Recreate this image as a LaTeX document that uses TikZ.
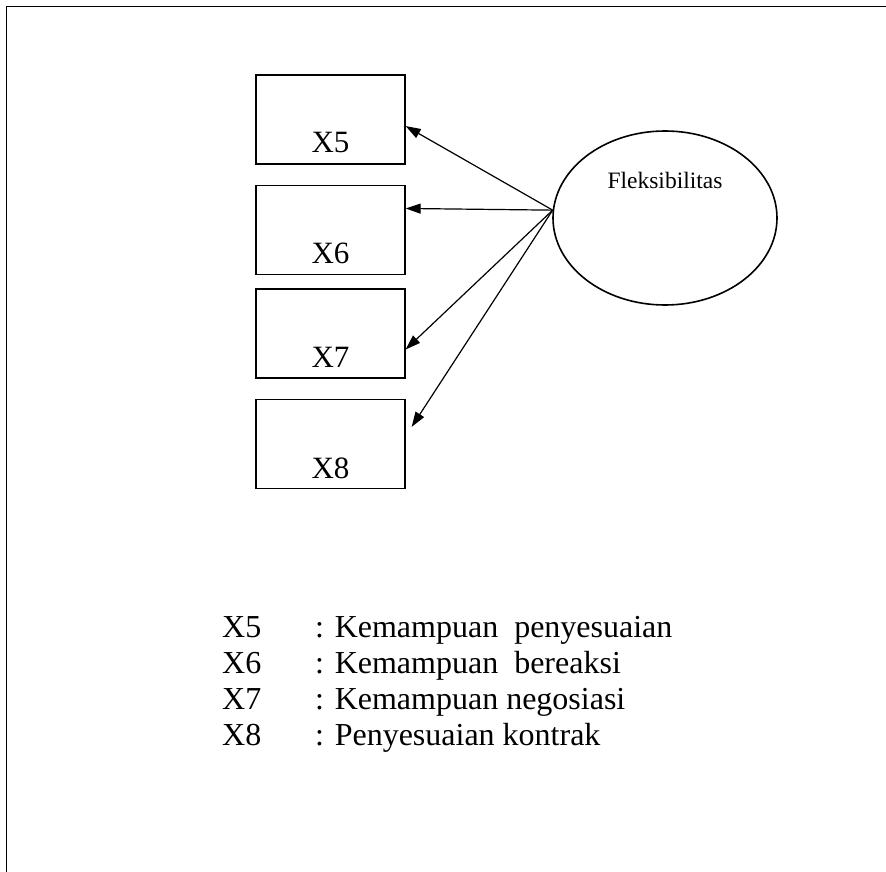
\documentclass[tikz,border=0pt]{standalone}
\usepackage{fontspec}
\setmainfont{Liberation Serif}
\usetikzlibrary{arrows.meta,shapes.geometric}

\tikzset{
  indicator/.style={draw, line width=1.3pt, rectangle, minimum width=149pt,
    minimum height=89pt, inner sep=0pt},
  boxlabel/.style={anchor=base, inner sep=0pt, font=\fontsize{31}{36}\selectfont},
  construct/.style={draw, line width=1.6pt, ellipse, minimum width=224pt,
    minimum height=174pt, inner sep=0pt},
  loading/.style={line width=1.2pt, -{Triangle[length=15pt,width=10pt]}},
  legendtext/.style={anchor=base west, inner sep=0pt, font=\fontsize{32}{37}\selectfont},
}

\begin{document}
\begin{tikzpicture}[x=1pt,y=-1pt]
\useasboundingbox (0,0) rectangle (886,872);

% frame edges (top and left)
\draw[line width=1.5pt] (886,6.5) -- (6.5,6.5) -- (6.5,872);

% observed indicators
\node[indicator] (b5) at (330.5,119.5) {};
\node[indicator] (b6) at (330.5,230) {};
\node[indicator] (b7) at (330.5,333.5) {};
\node[indicator] (b8) at (330.5,444) {};
\node[boxlabel] (l5) at ([yshift=12pt]b5.south) {X5};
\node[boxlabel] (l6) at ([yshift=12pt]b6.south) {X6};
\node[boxlabel] (l7) at ([yshift=11pt]b7.south) {X7};
\node[boxlabel] (l8) at ([yshift=11pt]b8.south) {X8};

% latent construct
\node[construct] (E) at (665,218) {};
\node[anchor=base, inner sep=0pt, font=\fontsize{23.5}{28}\selectfont] (Et)
  at ([yshift=30pt]E.center) {Fleksibilitas};

% loadings
\draw[loading] (E.176) -- (b5.-5.7);
\draw[loading] (E.176) -- (b6.16.5);
\draw[loading] (E.176) -- (b7.-12.5);
\draw[loading, shorten >=11pt] (E.176) -- (b8.6.3);

% legend
\node[legendtext] (k5) at (222,637) {X5};
\node[legendtext] (k6) at (222,673) {X6};
\node[legendtext] (k7) at (222,709) {X7};
\node[legendtext] (k8) at (222,745) {X8};
\node[legendtext] (d5) at (315,637) {: Kemampuan\ \ penyesuaian};
\node[legendtext] (d6) at (315,673) {: Kemampuan\ \ bereaksi};
\node[legendtext] (d7) at (315,709) {: Kemampuan negosiasi};
\node[legendtext] (d8) at (315,745) {: Penyesuaian kontrak};
\end{tikzpicture}
\end{document}
